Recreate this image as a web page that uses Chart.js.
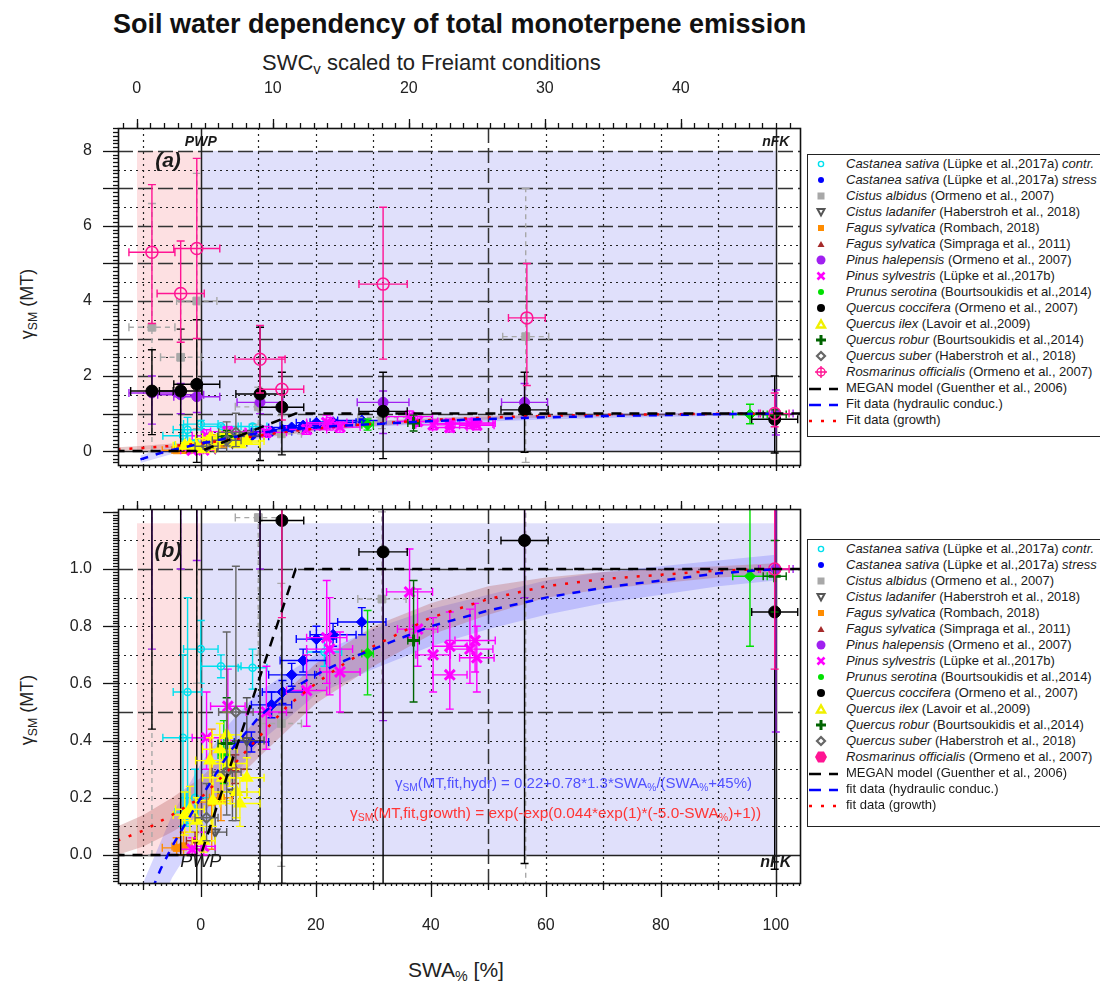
<!DOCTYPE html>
<html><head><meta charset="utf-8"><title>Soil water dependency of total monoterpene emission</title>
<script src="https://cdn.jsdelivr.net/npm/chart.js@4.4.1/dist/chart.umd.min.js"></script>
<style>
html,body{margin:0;padding:0;background:#fff;}
#wrap{position:relative;width:1100px;height:983px;overflow:hidden;font-family:"Liberation Sans",Arial,sans-serif;color:#111;}
#wrap canvas{position:absolute;left:0;}
.t{position:absolute;white-space:nowrap;line-height:1;}
.t sub{font-size:0.68em;vertical-align:baseline;position:relative;top:0.3em;}
.ytitle{font-size:18px;transform:translate(-50%,-50%) rotate(-90deg);color:#222;}
.leg{position:absolute;left:807px;width:320px;border:1.5px solid #222;background:#fff;box-sizing:border-box;}
.leg .row{position:absolute;left:0;height:16px;line-height:16px;font-size:13px;white-space:nowrap;color:#1a1a1a;width:310px;}
.leg svg{position:absolute;left:0;top:0;}
.leg span.lab{position:absolute;left:38px;top:0;}
.formula{font-size:15px;}
</style></head>
<body>
<div id="wrap">
  <div class="t" style="left:113px;top:11px;font-weight:bold;font-size:27px;color:#111;">Soil water dependency of total monoterpene emission</div>
  <div class="t" style="left:262px;top:52px;font-size:22px;color:#222;">SWC<sub>v</sub> scaled to Freiamt conditions</div>
  <div class="t" style="left:408px;top:959px;font-size:21px;color:#222;">SWA<sub>%</sub> [%]</div>
  <div class="t ytitle" style="left:27px;top:304px;">γ<sub>SM</sub> (MT)</div>
  <div class="t ytitle" style="left:27px;top:710px;">γ<sub>SM</sub> (MT)</div>
  <canvas id="cA" width="805" height="440" style="top:40px"></canvas>
  <canvas id="cB" width="805" height="460" style="top:490px"></canvas>
  <div class="t formula" style="left:395px;top:775px;color:#5050ff;">γ<sub>SM</sub>(MT,fit,hydr) = 0.22+0.78*1.3*SWA<sub>%</sub>/(SWA<sub>%</sub>+45%)</div>
  <div class="t formula" style="left:350px;top:805px;color:#ff3535;font-size:15.4px;">γ<sub>SM</sub>(MT,fit,growth) = exp(-exp(0.044*exp(1)*(-5.0-SWA<sub>%</sub>)+1))</div>
</div>
<script>
// ================= DATA =================
// axis ranges (SWA% bottom axis, SWC top axis, gamma axes)
const swaRange = [-14.4, 104.2];
const swcRange = [-1.38, 48.76];
const yRangeA = [-0.37, 8.61];
const yRangeB = [-0.098, 1.21];
const swaTickLabels = [0, 20, 40, 60, 80, 100];
const swcTickLabels = [0, 10, 20, 30, 40];
const yTickLabelsA = [0, 2, 4, 6, 8];
const yTickLabelsB = [0, 0.2, 0.4, 0.6, 0.8, 1.0];

// shaded regions (SWA%): below PWP and between PWP and nFK
const pwpRegionX = [-11.1, 0];
const fieldRegionX = [0, 100];
const regionTopA = 8;
const regionTopB = 1.16;
const markerLinesX = [0, 100]; // PWP, nFK

// Castanea sativa contr.
const castContrX  = [-3.1, -2.3, -2.5, -1.0, 0.0, 3.5, 9.0, 21.5];
const castContrY  = [0.41, 0.57, 0.15, 0.20, 0.72, 0.66, 0.655, 0.71];
const castContrXE = [3.5, 2.5, 2.0, 2.5, 3.0, 3.5, 2.5, 3.0];
const castContrYLo = [0.10, 0.11, 0.10, 0.12, 0.60, 0.62, 0.58, 0.66];
const castContrYHi = [0.70, 0.90, 0.22, 0.30, 0.82, 0.70, 0.72, 0.76];
// Castanea sativa stress
const castStressX  = [8.8, 12.3, 14.2, 15.8, 17.8, 20.1, 23.0, 28.0];
const castStressY  = [0.395, 0.525, 0.57, 0.63, 0.68, 0.755, 0.77, 0.815];
const castStressXE = [3.0, 3.5, 3.5, 4.0, 4.0, 3.5, 4.0, 4.2];
const castStressYLo = [0.36, 0.48, 0.53, 0.59, 0.64, 0.71, 0.73, 0.77];
const castStressYHi = [0.43, 0.57, 0.61, 0.67, 0.72, 0.80, 0.81, 0.865];
// Cistus albidus
const cistAlbX  = [-8.5, -3.5, -0.7, 10.0, 14.0, 31.5, 56.5];
const cistAlbY  = [3.3, 2.5, 4.0, 1.18, 0.46, 0.895, 3.05];
const cistAlbXE = [4.0, 3.5, 3.5, 4.0, 3.5, 4.2, 4.0];
const cistAlbYLo = [0.0, 1.0, 0.6, 0.70, -0.04, 0.60, -0.30];
const cistAlbYHi = [6.6, 4.0, 7.4, 1.70, 0.95, 1.20, 7.0];
// Cistus ladanifer
const cistLadX  = [2.5, 5.5, 8.0];
const cistLadY  = [0.08, 0.22, 0.40];
const cistLadXE = [2.0, 2.5, 3.0];
const cistLadYLo = [0.0, 0.12, 0.30];
const cistLadYHi = [0.20, 0.35, 0.55];
// Fagus sylvatica (Rombach)
const fagRombX  = [-4.2, -3.0, 1.9, 3.5];
const fagRombY  = [0.025, 0.03, 0.185, 0.20];
const fagRombXE = [2.5, 2.0, 2.5, 2.0];
const fagRombYLo = [0.0, 0.0, 0.02, 0.12];
const fagRombYHi = [0.06, 0.08, 0.44, 0.28];
// Fagus sylvatica (Simpraga)
const fagSimpX  = [-1.0, 6.0];
const fagSimpY  = [0.05, 0.30];
const fagSimpXE = [1.5, 2.0];
const fagSimpYLo = [0.02, 0.25];
const fagSimpYHi = [0.08, 0.35];
// Pinus halepensis
const pinHalX  = [-8.5, -3.5, -0.7, 10.3, 31.7, 56.3, 100.0];
const pinHalY  = [1.55, 1.5, 1.45, 1.3, 1.3, 1.3, 1.0];
const pinHalXE = [4.0, 4.0, 4.0, 4.0, 4.5, 4.0, 3.0];
const pinHalYLo = [0.72, 1.0, 1.03, 1.0, 0.47, 0.9, 0.43];
const pinHalYHi = [2.0, 1.8, 1.8, 1.5, 1.6, 1.8, 1.63];
// Pinus sylvestris
const pinSylX  = [-1.5, 0.5, 1.0, 4.7, 11.4, 18.4, 21.9, 22.4, 24.2, 36.3, 37.7, 40.4, 43.3, 43.3, 46.8, 47.7, 48.0];
const pinSylY  = [0.02, 0.03, 0.41, 0.52, 0.50, 0.575, 0.76, 0.72, 0.64, 0.92, 0.79, 0.70, 0.73, 0.63, 0.72, 0.75, 0.69];
const pinSylXE = [2.0, 2.0, 2.5, 3.0, 3.5, 3.5, 3.5, 4.0, 3.5, 4.0, 3.5, 3.0, 3.0, 3.0, 4.0, 3.5, 3.0];
const pinSylYLo = [0.0, 0.0, 0.30, 0.40, 0.37, 0.45, 0.60, 0.56, 0.50, 0.76, 0.66, 0.57, 0.62, 0.51, 0.60, 0.64, 0.57];
const pinSylYHi = [0.06, 0.08, 0.57, 0.65, 0.66, 0.70, 0.96, 0.90, 0.78, 1.07, 0.93, 0.83, 0.85, 0.75, 0.86, 0.88, 0.80];
// Prunus serotina
const prunSerX  = [4.0, 29.0, 95.5];
const prunSerY  = [0.35, 0.705, 0.975];
const prunSerXE = [1.0, 1.0, 3.0];
const prunSerYLo = [0.25, 0.56, 0.73];
const prunSerYHi = [0.47, 0.855, 1.25];
// Quercus coccifera
const querCoccX  = [-8.5, -3.5, -0.7, 10.3, 14.1, 31.7, 56.3, 99.8];
const querCoccY  = [1.6, 1.6, 1.78, 1.52, 1.17, 1.06, 1.1, 0.85];
const querCoccXE = [3.7, 3.7, 4.0, 4.2, 3.8, 4.2, 4.1, 4.0];
const querCoccYLo = [0.44, 0.0, -0.3, -0.25, -0.1, -0.2, -0.03, -0.05];
const querCoccYHi = [2.7, 3.25, 3.5, 3.3, 2.1, 2.1, 2.1, 2.0];
// Quercus ilex
const querIlexX  = [3.3, 1.6, 5.0, 3.8, 6.2, 2.1, -1.9, -2.8, -0.7, 6.8, 8.0, 0.5, 4.5];
const querIlexY  = [0.37, 0.33, 0.32, 0.27, 0.22, 0.19, 0.16, 0.14, 0.12, 0.18, 0.27, 0.05, 0.42];
const querIlexXE = [3.0, 2.5, 3.0, 3.5, 4.0, 3.0, 2.5, 2.0, 2.5, 3.5, 3.0, 2.0, 2.5];
const querIlexYLo = [0.28, 0.25, 0.24, 0.18, 0.13, 0.10, 0.08, 0.07, 0.05, 0.10, 0.20, 0.01, 0.33];
const querIlexYHi = [0.46, 0.41, 0.42, 0.36, 0.30, 0.28, 0.24, 0.22, 0.20, 0.27, 0.34, 0.10, 0.50];
// Quercus robur
const querRobX  = [4.5, 37.0, 99.8];
const querRobY  = [0.39, 0.75, 0.975];
const querRobXE = [1.5, 1.0, 2.0];
const querRobYLo = [0.30, 0.535, 0.85];
const querRobYHi = [0.55, 0.96, 1.10];
// Quercus suber
const querSubX  = [1.0, 4.5, 6.1];
const querSubY  = [0.13, 0.29, 0.50];
const querSubXE = [2.0, 2.5, 3.0];
const querSubYLo = [0.05, 0.14, 0.12];
const querSubYHi = [0.25, 0.78, 1.01];
// Rosmarinus officialis
const rosOffX  = [-8.5, -3.5, -0.7, 10.3, 14.1, 31.7, 56.7, 99.8];
const rosOffY  = [5.3, 4.2, 5.4, 2.45, 1.65, 4.45, 3.55, 1.0];
const rosOffXE = [4.0, 4.1, 4.0, 4.35, 3.8, 4.2, 3.2, 2.5];
const rosOffYLo = [3.4, 2.9, 3.0, 1.55, 0.83, 2.45, 1.75, 0.65];
const rosOffYHi = [7.1, 5.6, 7.8, 3.35, 2.5, 6.5, 5.0, 1.55];

// Model curves
const meganX = [-15, 0, 16.5, 105];
const meganY = [0, 0, 1, 1];
const hydrX = [-10.5, -7, -5, 0, 5, 10, 15, 20, 25, 30, 35, 40, 50, 60, 70, 80, 90, 100];
const hydrY = [-0.22, -0.05, 0.03, 0.2, 0.36, 0.48, 0.57, 0.63, 0.68, 0.72, 0.76, 0.8, 0.855, 0.9, 0.935, 0.96, 0.985, 1.0];
const growthX = [-14.5, -10, -5, 0, 5, 10, 15, 20, 25, 30, 35, 40, 50, 60, 70, 80, 90, 100];
const growthY = [0.05, 0.085, 0.14, 0.2, 0.3, 0.41, 0.52, 0.6, 0.67, 0.73, 0.78, 0.83, 0.895, 0.94, 0.965, 0.98, 0.995, 1.0];
// uncertainty bands
const hydrBandX  = [-10.5, -5, 0, 5, 10, 20, 30, 40, 50, 60, 70, 80, 90, 100];
const hydrBandLo = [-0.32, -0.08, 0.08, 0.25, 0.39, 0.56, 0.65, 0.73, 0.79, 0.84, 0.88, 0.91, 0.94, 0.96];
const hydrBandHi = [-0.12, 0.14, 0.32, 0.46, 0.57, 0.70, 0.79, 0.86, 0.91, 0.96, 0.99, 1.01, 1.03, 1.05];
const growthBandX  = [-14.5, -10, -5, 0, 5, 10, 20, 30, 40, 50, 60, 70, 80, 90, 100];
const growthBandLo = [0.0, 0.03, 0.08, 0.14, 0.24, 0.34, 0.53, 0.66, 0.77, 0.84, 0.90, 0.93, 0.95, 0.97, 0.98];
const growthBandHi = [0.10, 0.14, 0.20, 0.27, 0.37, 0.48, 0.67, 0.80, 0.88, 0.94, 0.97, 0.99, 1.00, 1.01, 1.02];

// Legend texts
const speciesNames = ['Castanea sativa','Castanea sativa','Cistus albidus','Cistus ladanifer','Fagus sylvatica','Fagus sylvatica','Pinus halepensis','Pinus sylvestris','Prunus serotina','Quercus coccifera','Quercus ilex','Quercus robur','Quercus suber','Rosmarinus officialis'];
const citations = ['(Lüpke et al.,2017a)','(Lüpke et al.,2017a)','(Ormeno et al., 2007)','(Haberstroh et al., 2018)','(Rombach, 2018)','(Simpraga et al., 2011)','(Ormeno et al., 2007)','(Lüpke et al.,2017b)','(Bourtsoukidis et al.,2014)','(Ormeno et al., 2007)','(Lavoir et al.,2009)','(Bourtsoukidis et al.,2014)','(Haberstroh et al., 2018)','(Ormeno et al., 2007)'];
const treatments = ['contr.','stress','','','','','','','','','','','',''];
const lineLabelsA = ['MEGAN model (Guenther et al., 2006)','Fit data (hydraulic conduc.)','Fit data (growth)'];
const lineLabelsB = ['MEGAN model (Guenther et al., 2006)','fit data (hydraulic conduc.)','fit data (growth)'];

// ================= STYLES =================
const pointSeries = [
 {key:'castContr', X:castContrX, Y:castContrY, XE:castContrXE, YLO:castContrYLo, YHI:castContrYHi},
 {key:'castStress', X:castStressX, Y:castStressY, XE:castStressXE, YLO:castStressYLo, YHI:castStressYHi},
 {key:'cistAlb', X:cistAlbX, Y:cistAlbY, XE:cistAlbXE, YLO:cistAlbYLo, YHI:cistAlbYHi},
 {key:'cistLad', X:cistLadX, Y:cistLadY, XE:cistLadXE, YLO:cistLadYLo, YHI:cistLadYHi},
 {key:'fagRomb', X:fagRombX, Y:fagRombY, XE:fagRombXE, YLO:fagRombYLo, YHI:fagRombYHi},
 {key:'fagSimp', X:fagSimpX, Y:fagSimpY, XE:fagSimpXE, YLO:fagSimpYLo, YHI:fagSimpYHi},
 {key:'pinHal', X:pinHalX, Y:pinHalY, XE:pinHalXE, YLO:pinHalYLo, YHI:pinHalYHi},
 {key:'pinSyl', X:pinSylX, Y:pinSylY, XE:pinSylXE, YLO:pinSylYLo, YHI:pinSylYHi},
 {key:'prunSer', X:prunSerX, Y:prunSerY, XE:prunSerXE, YLO:prunSerYLo, YHI:prunSerYHi},
 {key:'querCocc', X:querCoccX, Y:querCoccY, XE:querCoccXE, YLO:querCoccYLo, YHI:querCoccYHi},
 {key:'querIlex', X:querIlexX, Y:querIlexY, XE:querIlexXE, YLO:querIlexYLo, YHI:querIlexYHi},
 {key:'querRob', X:querRobX, Y:querRobY, XE:querRobXE, YLO:querRobYLo, YHI:querRobYHi},
 {key:'querSub', X:querSubX, Y:querSubY, XE:querSubXE, YLO:querSubYLo, YHI:querSubYHi},
 {key:'rosOff', X:rosOffX, Y:rosOffY, XE:rosOffXE, YLO:rosOffYLo, YHI:rosOffYHi}
];
const pointStyles = {
 castContr:{color:'#00e0ee', style:'circle', r:3.5, hollow:true, bw:1.5},
 castStress:{color:'#0000ff', style:'rectRot', r:5.5, bw:1},
 cistAlb:{color:'#a8a8a8', style:'rect', r:5.5, bw:1, errDash:[5,4]},
 cistLad:{color:'#555555', style:'triangle', rot:180, r:5, hollow:true, bw:2},
 fagRomb:{color:'#ff8c00', style:'rect', r:5, bw:1},
 fagSimp:{color:'#a52a2a', style:'triangle', r:4.5, bw:1},
 pinHal:{color:'#a020f0', style:'circle', r:5, bw:1},
 pinSyl:{color:'#ff00ff', style:'crossRot', r:7, bw:3},
 prunSer:{color:'#00e000', style:'rectRot', r:5.5, bw:1},
 querCocc:{color:'#000000', style:'circle', r:6, bw:1},
 querIlex:{color:'#ffff00', style:'triangle', r:6.5, bw:1.5},
 querRob:{color:'#006400', style:'cross', r:6, bw:3},
 querSub:{color:'#666666', style:'rectRot', r:5, hollow:true, bw:2},
 rosOff:{color:'#ff1493', style:'circle', r:6, hollow:true, bw:1.5}
};

function pts(X, Y){ return X.map((x, i) => ({x: x, y: Y[i]})); }
function range(a, b, step){ const r = []; for (let v = a; v <= b + 1e-9; v += step) r.push(+v.toFixed(4)); return r; }

function makeDatasets(){
  const ds = [];
  ds.push({type:'line', data:pts(meganX, meganY), borderColor:'#000', borderWidth:2.5, borderDash:[10,8], pointRadius:0, fill:false});
  ds.push({type:'line', data:pts(hydrX, hydrY), borderColor:'#0000ff', borderWidth:2.5, borderDash:[8,8], pointRadius:0, fill:false, tension:0});
  ds.push({type:'line', data:pts(growthX, growthY), borderColor:'#ff0000', borderWidth:2.5, borderDash:[3,9], pointRadius:0, fill:false});
  for (let i = pointSeries.length - 1; i >= 0; i--) {
    const s = pointSeries[i], st = pointStyles[s.key];
    ds.push({
      type:'line', showLine:false, data:pts(s.X, s.Y),
      pointStyle:st.style, pointRadius:st.r, pointRotation:st.rot || 0,
      pointBackgroundColor: st.hollow ? 'rgba(0,0,0,0)' : st.color,
      pointBorderColor: st.color, pointBorderWidth: st.bw,
      err:{xe:s.XE, ylo:s.YLO, yhi:s.YHI, color:st.color, dash:st.errDash || []}
    });
  }
  ds.push({type:'line', data:pts(growthBandX, growthBandHi), borderColor:'rgba(0,0,0,0)', borderWidth:0, pointRadius:0, fill:'+1', backgroundColor:'rgba(185,95,95,0.33)'});
  ds.push({type:'line', data:pts(growthBandX, growthBandLo), borderColor:'rgba(0,0,0,0)', borderWidth:0, pointRadius:0, fill:false});
  ds.push({type:'line', data:pts(hydrBandX, hydrBandHi), borderColor:'rgba(0,0,0,0)', borderWidth:0, pointRadius:0, fill:'+1', backgroundColor:'rgba(70,70,255,0.22)'});
  ds.push({type:'line', data:pts(hydrBandX, hydrBandLo), borderColor:'rgba(0,0,0,0)', borderWidth:0, pointRadius:0, fill:false});
  return ds;
}

// panel-specific decoration config
const panelCfg = {
  cA: {
    regionTop: regionTopA,
    gridYDashed: range(1, 8, 1), gridYDotted: range(0.5, 7.5, 1),
    left: {major: range(0, 8, 1), majorLen: 15, minor: range(-0.3, 8.6, 0.1), minorLen: 5},
    top: {scale:'x2', major: range(0, 40, 10), majorLen: 9, minor: range(-1, 48, 1), minorLen: 5},
    bottom: {scale:'x', major: range(-10, 100, 10), majorLen: 6, minor: range(-14, 104, 1), minorLen: 3},
    texts: [
      {t:'(a)', x:-5.7, y:7.72, font:'bold italic 21px "Liberation Sans"', align:'center'},
      {t:'PWP', x:0, y:8.22, font:'bold italic 14px "Liberation Sans"', align:'center'},
      {t:'nFK', x:100, y:8.22, font:'bold italic 14px "Liberation Sans"', align:'center'}
    ]
  },
  cB: {
    regionTop: regionTopB,
    gridYDashed: [0.5, 1.0], gridYDotted: [0.1, 0.2, 0.3, 0.4, 0.6, 0.7, 0.8, 0.9, 1.1],
    left: {major: range(0, 1.2, 0.2), majorLen: 15, minor: range(-0.09, 1.2, 0.01), minorLen: 5},
    top: {scale:'x2', major: range(0, 40, 10), majorLen: 8, minor: range(-1, 48, 1), minorLen: 4},
    bottom: {scale:'x', major: range(0, 100, 20), majorLen: 14, minor: range(-14, 104, 1), minorLen: 3, mid: range(-10, 90, 20), midLen: 7},
    texts: [
      {t:'(b)', x:-5.7, y:1.063, font:'bold italic 21px "Liberation Sans"', align:'center'},
      {t:'PWP', x:0, y:-0.026, font:'italic 18px "Liberation Sans"', align:'center'},
      {t:'nFK', x:100, y:-0.028, font:'bold italic 16px "Liberation Sans"', align:'center'}
    ]
  }
};

function hline(ctx, x0, x1, y){ ctx.beginPath(); ctx.moveTo(x0, y); ctx.lineTo(x1, y); ctx.stroke(); }
function vline(ctx, x, y0, y1){ ctx.beginPath(); ctx.moveTo(x, y0); ctx.lineTo(x, y1); ctx.stroke(); }

const panelPlugin = {
  id: 'panelDeco',
  beforeDatasetsDraw(chart){
    const cfg = panelCfg[chart.canvas.id];
    const ctx = chart.ctx, ca = chart.chartArea, sx = chart.scales.x, sy = chart.scales.y;
    ctx.save();
    ctx.beginPath(); ctx.rect(ca.left, ca.top, ca.width, ca.height); ctx.clip();
    const yT = sy.getPixelForValue(cfg.regionTop), y0 = sy.getPixelForValue(0);
    ctx.fillStyle = 'rgb(253,224,226)';
    ctx.fillRect(sx.getPixelForValue(pwpRegionX[0]), yT, sx.getPixelForValue(pwpRegionX[1]) - sx.getPixelForValue(pwpRegionX[0]), y0 - yT);
    ctx.fillStyle = 'rgb(224,224,251)';
    ctx.fillRect(sx.getPixelForValue(fieldRegionX[0]), yT, sx.getPixelForValue(fieldRegionX[1]) - sx.getPixelForValue(fieldRegionX[0]), y0 - yT);
    // grid
    ctx.strokeStyle = '#222'; ctx.lineWidth = 1.2; ctx.setLineDash([2, 4]);
    [-10, 10, 20, 30, 40, 60, 70, 80, 90].forEach(v => vline(ctx, Math.round(sx.getPixelForValue(v)) + 0.5, ca.top, ca.bottom));
    cfg.gridYDotted.forEach(v => hline(ctx, ca.left, ca.right, Math.round(sy.getPixelForValue(v)) + 0.5));
    ctx.strokeStyle = '#333'; ctx.lineWidth = 1.5; ctx.setLineDash([15, 5]);
    [50].forEach(v => vline(ctx, Math.round(sx.getPixelForValue(v)) + 0.5, ca.top, ca.bottom));
    cfg.gridYDashed.forEach(v => hline(ctx, ca.left, ca.right, Math.round(sy.getPixelForValue(v)) + 0.5));
    ctx.setLineDash([]); ctx.strokeStyle = '#222'; ctx.lineWidth = 1.5;
    hline(ctx, ca.left, ca.right, Math.round(y0) + 0.5);
    markerLinesX.forEach(v => vline(ctx, Math.round(sx.getPixelForValue(v)) + 0.5, ca.top, ca.bottom));
    ctx.restore();
  },
  beforeDatasetDraw(chart, args){
    const ds = chart.data.datasets[args.index];
    if (!ds.err) return;
    const ctx = chart.ctx, ca = chart.chartArea, sx = chart.scales.x, sy = chart.scales.y, e = ds.err, cap = 4;
    ctx.save();
    ctx.beginPath(); ctx.rect(ca.left, ca.top, ca.width, ca.height); ctx.clip();
    ctx.strokeStyle = e.color; ctx.lineWidth = 1.4; ctx.setLineDash(e.dash);
    ds.data.forEach((p, i) => {
      const px = sx.getPixelForValue(p.x), py = sy.getPixelForValue(p.y);
      const x0 = sx.getPixelForValue(p.x - e.xe[i]), x1 = sx.getPixelForValue(p.x + e.xe[i]);
      const ylo = sy.getPixelForValue(e.ylo[i]), yhi = sy.getPixelForValue(e.yhi[i]);
      ctx.beginPath();
      ctx.moveTo(x0, py); ctx.lineTo(x1, py);
      ctx.moveTo(px, ylo); ctx.lineTo(px, yhi);
      ctx.stroke();
      ctx.setLineDash([]);
      ctx.beginPath();
      ctx.moveTo(x0, py - cap); ctx.lineTo(x0, py + cap);
      ctx.moveTo(x1, py - cap); ctx.lineTo(x1, py + cap);
      ctx.moveTo(px - cap, ylo); ctx.lineTo(px + cap, ylo);
      ctx.moveTo(px - cap, yhi); ctx.lineTo(px + cap, yhi);
      ctx.stroke();
      ctx.setLineDash(e.dash);
    });
    ctx.restore();
  },
  afterDraw(chart){
    const cfg = panelCfg[chart.canvas.id];
    const ctx = chart.ctx, ca = chart.chartArea, sx = chart.scales.x, sy = chart.scales.y;
    ctx.save();
    ctx.strokeStyle = '#111'; ctx.lineWidth = 1.3; ctx.setLineDash([]);
    const L = cfg.left;
    L.minor.forEach(v => { const p = Math.round(sy.getPixelForValue(v)) + 0.5; if (p >= ca.top && p <= ca.bottom) hline(ctx, ca.left - L.minorLen, ca.left, p); });
    L.major.forEach(v => { const p = Math.round(sy.getPixelForValue(v)) + 0.5; hline(ctx, ca.left - L.majorLen, ca.left, p); });
    const T = cfg.top, st = chart.scales[T.scale];
    T.minor.forEach(v => { const p = Math.round(st.getPixelForValue(v)) + 0.5; if (p >= ca.left && p <= ca.right) vline(ctx, p, ca.top - T.minorLen, ca.top); });
    T.major.forEach(v => { const p = Math.round(st.getPixelForValue(v)) + 0.5; vline(ctx, p, ca.top - T.majorLen, ca.top); });
    const B = cfg.bottom, sb = chart.scales[B.scale];
    B.minor.forEach(v => { const p = Math.round(sb.getPixelForValue(v)) + 0.5; if (p >= ca.left && p <= ca.right) vline(ctx, p, ca.bottom, ca.bottom + B.minorLen); });
    if (B.mid) B.mid.forEach(v => { const p = Math.round(sb.getPixelForValue(v)) + 0.5; vline(ctx, p, ca.bottom, ca.bottom + B.midLen); });
    B.major.forEach(v => { const p = Math.round(sb.getPixelForValue(v)) + 0.5; vline(ctx, p, ca.bottom, ca.bottom + B.majorLen); });
    ctx.lineWidth = 1.6; ctx.strokeStyle = '#111';
    ctx.strokeRect(Math.round(ca.left) + 0.5, Math.round(ca.top) + 0.5, Math.round(ca.width), Math.round(ca.height));
    ctx.fillStyle = '#1a1a1a'; ctx.textBaseline = 'middle';
    cfg.texts.forEach(tx => { ctx.font = tx.font; ctx.textAlign = tx.align; ctx.fillText(tx.t, sx.getPixelForValue(tx.x), sy.getPixelForValue(tx.y)); });
    ctx.restore();
  }
};

const tickFont = {family:'"Liberation Sans", Arial, sans-serif', size:16};
function noPad(s){ s.paddingLeft = 0; s.paddingRight = 0; s.paddingTop = 0; s.paddingBottom = 0; }

function makeChart(id, yRange, yTicks, yFmt, topShown, bottomShown, padTop, padBottom, target){
  const opts = {
    responsive:false, animation:false, devicePixelRatio:1,
    events:[],
    layout:{padding:{left:0, right:5, top:padTop, bottom:padBottom}, autoPadding:false},
    plugins:{legend:{display:false}, tooltip:{enabled:false}},
    scales:{
      x:{type:'linear', position:'bottom', min:swaRange[0], max:swaRange[1], display:bottomShown,
         grid:{display:false, drawTicks:false}, border:{display:false},
         ticks:{font:tickFont, color:'#222', padding:33, autoSkip:false, maxRotation:0, callback:v => String(v)},
         afterBuildTicks: s => { s.ticks = swaTickLabels.map(v => ({value:v})); },
         afterFit: s => { noPad(s); if (bottomShown) s.height = 67; else s.height = 0; }},
      x2:{type:'linear', position:'top', min:swcRange[0], max:swcRange[1], display:topShown,
         grid:{display:false, drawTicks:false}, border:{display:false},
         ticks:{font:tickFont, color:'#222', padding:30, autoSkip:false, maxRotation:0, callback:v => String(v)},
         afterBuildTicks: s => { s.ticks = swcTickLabels.map(v => ({value:v})); },
         afterFit: s => { noPad(s); if (topShown) s.height = 88; else s.height = 0; }},
      y:{type:'linear', position:'left', min:yRange[0], max:yRange[1],
         grid:{display:false, drawTicks:false}, border:{display:false},
         ticks:{font:tickFont, color:'#222', padding:26, autoSkip:false, callback:yFmt},
         afterBuildTicks: s => { s.ticks = yTicks.map(v => ({value:v})); },
         afterFit: s => { noPad(s); s.width = 118; }}
    }
  };
  const chart = new Chart(document.getElementById(id), {type:'line', data:{datasets: makeDatasets()}, plugins:[panelPlugin], options:opts});
  // make sure the plotting area lands where the figure has it
  for (let k = 0; k < 4; k++) {
    const ca = chart.chartArea, p = chart.config.options.layout.padding;
    const dl = target.left - ca.left, dr = ca.right - target.right, dt = target.top - ca.top, db = ca.bottom - target.bottom;
    if (Math.abs(dl) + Math.abs(dr) + Math.abs(dt) + Math.abs(db) < 0.5) break;
    p.left += dl; p.right += dr; p.top += dt; p.bottom += db;
    chart.update('none');
  }
  return chart;
}

makeChart('cA', yRangeA, yTickLabelsA, v => String(v), true, false, 0, 15, {left:118, right:800, top:88, bottom:425});
makeChart('cB', yRangeB, yTickLabelsB, v => Number(v).toFixed(1), false, true, 19, 0, {left:118, right:800, top:19, bottom:393});

// ================= HTML legends =================
function symbolSvg(key, variant){
  const st = pointStyles[key], c = st.color;
  let s = '';
  const cx = 13, cy = 8;
  switch (key) {
    case 'castContr': s = `<circle cx="${cx}" cy="${cy}" r="2.6" fill="none" stroke="${c}" stroke-width="1.4"/>`; break;
    case 'castStress': s = `<circle cx="${cx}" cy="${cy}" r="3" fill="${c}"/>`; break;
    case 'cistAlb': s = `<rect x="${cx-3.5}" y="${cy-3.5}" width="7" height="7" fill="${c}"/>`; break;
    case 'cistLad': s = `<polygon points="${cx-3.5},${cy-3} ${cx+3.5},${cy-3} ${cx},${cy+3.5}" fill="none" stroke="${c}" stroke-width="2"/>`; break;
    case 'fagRomb': s = `<rect x="${cx-3}" y="${cy-3}" width="6" height="6" fill="${c}"/>`; break;
    case 'fagSimp': s = `<polygon points="${cx-3.5},${cy+3} ${cx+3.5},${cy+3} ${cx},${cy-3}" fill="${c}"/>`; break;
    case 'pinHal': s = `<circle cx="${cx}" cy="${cy}" r="4.5" fill="${c}"/>`; break;
    case 'pinSyl': s = `<path d="M${cx-3.5} ${cy-3.5}L${cx+3.5} ${cy+3.5}M${cx+3.5} ${cy-3.5}L${cx-3.5} ${cy+3.5}" stroke="${c}" stroke-width="2.6"/>`; break;
    case 'prunSer': s = `<circle cx="${cx}" cy="${cy}" r="3" fill="${c}"/>`; break;
    case 'querCocc': s = `<circle cx="${cx}" cy="${cy}" r="4" fill="${c}"/>`; break;
    case 'querIlex': s = `<polygon points="${cx-4},${cy+3.5} ${cx+4},${cy+3.5} ${cx},${cy-3.5}" fill="none" stroke="#f0f000" stroke-width="2.4"/>`; break;
    case 'querRob': s = `<path d="M${cx-5} ${cy}L${cx+5} ${cy}M${cx} ${cy-5}L${cx} ${cy+5}" stroke="${c}" stroke-width="3"/>`; break;
    case 'querSub': s = `<polygon points="${cx},${cy-4} ${cx+4},${cy} ${cx},${cy+4} ${cx-4},${cy}" fill="none" stroke="${c}" stroke-width="2.2"/>`; break;
    case 'rosOff':
      if (variant === 'B') s = `<polygon points="${cx-3},${cy-5.5} ${cx+3},${cy-5.5} ${cx+6},${cy} ${cx+3},${cy+5.5} ${cx-3},${cy+5.5} ${cx-6},${cy}" fill="${c}"/>`;
      else s = `<circle cx="${cx}" cy="${cy}" r="4" fill="none" stroke="${c}" stroke-width="1.4"/><path d="M${cx-6} ${cy}L${cx+6} ${cy}M${cx} ${cy-6}L${cx} ${cy+6}" stroke="${c}" stroke-width="1.4"/>`;
      break;
  }
  return `<svg width="32" height="16" viewBox="0 0 32 16">${s}</svg>`;
}
function lineSvg(color, dash){
  return `<svg width="32" height="16" viewBox="0 0 32 16"><line x1="1" y1="9" x2="30" y2="9" stroke="${color}" stroke-width="2.5" stroke-dasharray="${dash}"/></svg>`;
}
function buildLegend(top, height, variant){
  const box = document.createElement('div');
  box.className = 'leg'; box.style.top = top + 'px'; box.style.height = height + 'px';
  const rows = [];
  pointSeries.forEach((s, i) => {
    let lab = `<i>${speciesNames[i]}</i> ${citations[i]}`;
    if (treatments[i]) lab += ` <i>${treatments[i]}</i>`;
    rows.push(symbolSvg(s.key, variant) + `<span class="lab">${lab}</span>`);
  });
  const ll = variant === 'B' ? lineLabelsB : lineLabelsA;
  rows.push(lineSvg('#000', '12 8') + `<span class="lab">${ll[0]}</span>`);
  rows.push(lineSvg('#0000ff', '12 8') + `<span class="lab">${ll[1]}</span>`);
  rows.push(lineSvg('#ff0000', '3 9') + `<span class="lab">${ll[2]}</span>`);
  rows.forEach((h, i) => {
    const r = document.createElement('div'); r.className = 'row';
    r.style.top = (1 + 16 * i) + 'px'; r.innerHTML = h; box.appendChild(r);
  });
  document.getElementById('wrap').appendChild(box);
}
buildLegend(154, 283, 'A');
buildLegend(539, 288, 'B');
</script>
</body></html>
